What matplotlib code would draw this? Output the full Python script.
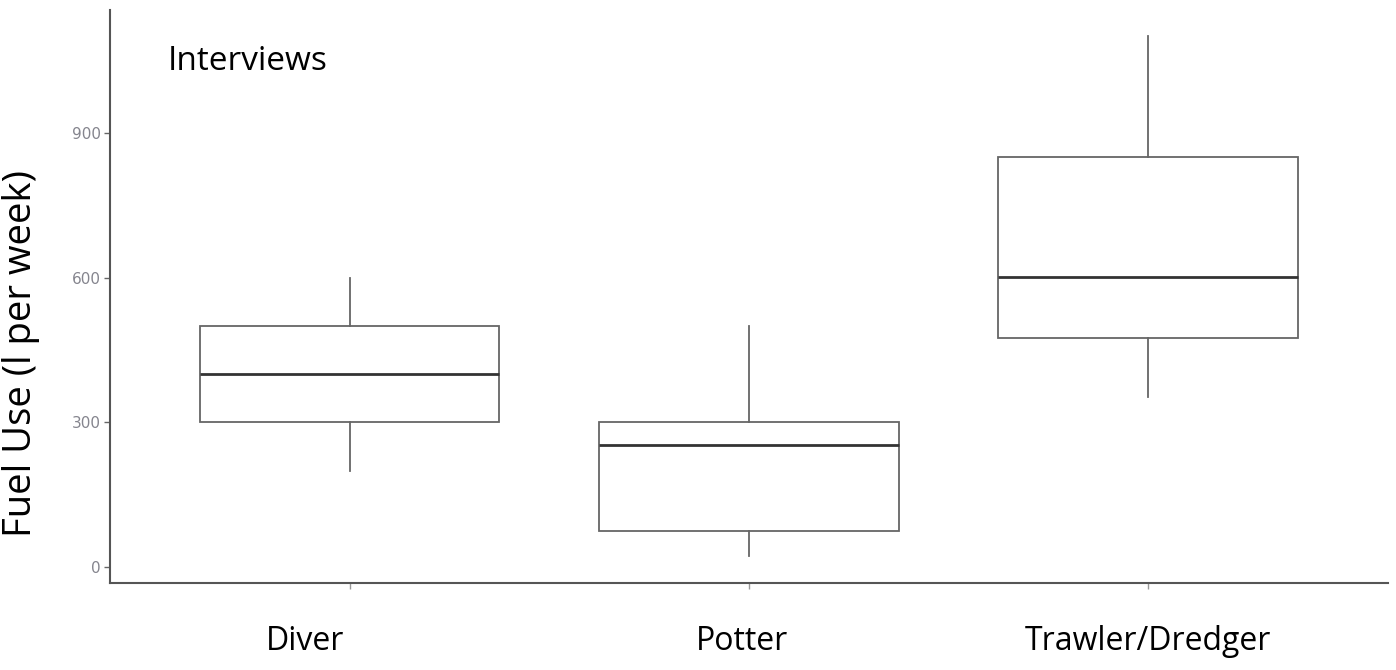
import matplotlib
matplotlib.use("Agg")
import matplotlib.pyplot as plt
from matplotlib.transforms import ScaledTranslation

# fuel use per week
groups = ["Diver", "Potter", "Trawler/Dredger"]
whisker_low = [200, 22, 352]
q1 = [300, 74, 476]
median = [400, 254, 602]
q3 = [500, 300, 851]
whisker_high = [600, 500, 1102]
yticks = [0, 300, 600, 900]

stats = []
for i in range(len(groups)):
    stats.append({"label": groups[i], "whislo": whisker_low[i], "q1": q1[i],
                  "med": median[i], "q3": q3[i], "whishi": whisker_high[i]})

fig = plt.figure(figsize=(13.96, 6.70), dpi=100)
ax = fig.add_axes([0.079, 0.130, 0.915, 0.855])

grey = "#666666"
ax.bxp(stats, positions=range(len(groups)), widths=0.75, showcaps=False,
       showfliers=False, patch_artist=True,
       boxprops=dict(facecolor="white", edgecolor=grey, linewidth=1.3),
       whiskerprops=dict(color=grey, linewidth=1.3),
       medianprops=dict(color="#333333", linewidth=2.0))

ax.set_xlim(-0.6, 2.6)
ax.set_ylim(-33, 1156)
ax.set_yticks(yticks)
ax.set_yticklabels([str(t) for t in yticks], fontsize=11, color="#85858e")
ax.set_xticks(range(len(groups)))
ax.set_xticklabels(groups, fontsize=23, family="Open Sans", color="black")
ax.tick_params(axis="y", length=4, width=1, color="#666666", pad=3)
ax.tick_params(axis="x", length=4, width=1, color="#999999", pad=26)

# hand placed labels in the original, not quite centred under the boxes
shifts = [-0.45, -0.07, 0.0]
for lbl, dx in zip(ax.get_xticklabels(), shifts):
    lbl.set_transform(lbl.get_transform() + ScaledTranslation(dx, 0, fig.dpi_scale_trans))

for s in ["top", "right"]:
    ax.spines[s].set_visible(False)
for s in ["left", "bottom"]:
    ax.spines[s].set_color("#555555")
    ax.spines[s].set_linewidth(1.5)

ax.text(0.045, 0.91, "Interviews", transform=ax.transAxes, fontsize=24,
        family="Open Sans", ha="left", va="center")
fig.text(0.015, 0.472, "Fuel Use (l per week)", rotation=90, fontsize=27.5,
         family="Open Sans", ha="center", va="center")

fig.savefig("out.png", dpi=100, facecolor="white")
